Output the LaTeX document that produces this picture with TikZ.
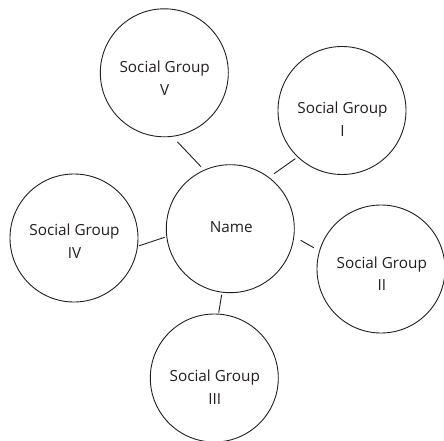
\documentclass[tikz,border=0pt]{standalone}
\usepackage{fontspec}
\setmainfont{Open Sans}
\usetikzlibrary{calc}
\definecolor{ink}{HTML}{231F20}
\begin{document}
\begin{tikzpicture}[x=1pt,y=-1pt,
  grp/.style={circle,draw=ink,line width=0.9pt,minimum size=128pt,inner sep=0pt,outer sep=0pt},
  lbl/.style={text=ink,font=\fontsize{15.3}{22.5}\selectfont,align=center,inner sep=0pt},
  link/.style={draw=ink,line width=0.9pt}]
\useasboundingbox[fill=white] (0,0) rectangle (444,441);
% circles
\node[grp] (N)   at (230.3,228.7) {};
\node[grp] (V)   at (164.3,72.8) {};
\node[grp] (I)   at (342,110.5) {};
\node[grp] (IV)  at (74,238) {};
\node[grp] (II)  at (381,269) {};
\node[grp] (III) at (214.3,378) {};
% labels
\node[lbl] (Nt)   at (231.3,226.7) {Name};
\node[lbl] (Vt)   at (164.7,78) {Social Group\\V};
\node[lbl] (It)   at (342.5,119.2) {Social Group\\I};
\node[lbl] (IVt)  at (74.5,241.2) {Social Group\\IV};
\node[lbl] (IIt)  at (381.8,273.7) {Social Group\\II};
\node[lbl] (IIIt) at (214.8,387) {Social Group\\III};
% connectors
\draw[link] ($(V)+(13,68.9)$) -- ($(N)+(-29.3,-62)$);
\draw[link] ($(I)+(-46.7,48.2)$) -- ($(N)+(43.7,-55)$);
\draw[link] ($(IV)+(65.3,7.7)$) -- ($(N)+(-65.6,8.6)$);
\draw[link] ($(N)+(70.4,11.6)$) -- ($(II)+(-67.3,-21.3)$);
\draw[link] ($(N)+(-8.6,66)$) -- ($(III)+(4.4,-65.3)$);
\end{tikzpicture}
\end{document}
